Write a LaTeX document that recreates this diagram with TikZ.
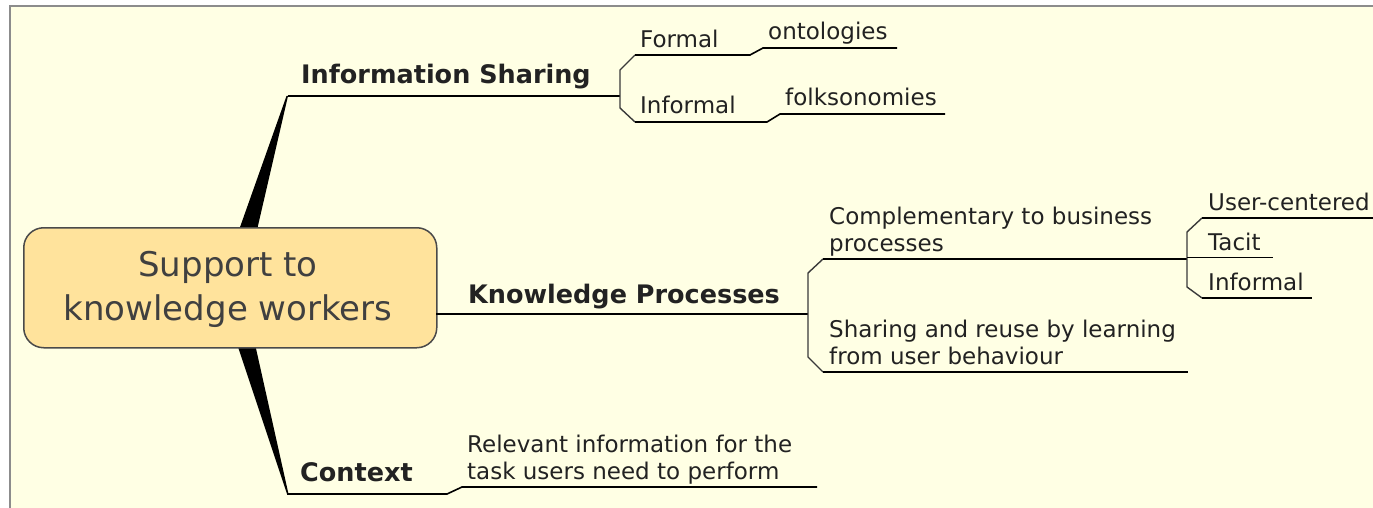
\documentclass[tikz,border=0pt]{standalone}
\usepackage{fontspec}
\setmainfont{DejaVu Sans}
\definecolor{panel}{HTML}{FFFFE4}
\definecolor{rootfill}{HTML}{FFE39C}
\definecolor{rootdraw}{HTML}{4A4A4A}
\definecolor{roottext}{HTML}{404040}
\definecolor{txt}{HTML}{222222}
\definecolor{frame}{HTML}{8C8C8C}
\definecolor{brk}{HTML}{3A3A3A}
\tikzset{
  lbl/.style={inner sep=0pt, anchor=base west, text=txt, font=\fontsize{23}{27}\selectfont, align=left},
  main/.style={inner sep=0pt, anchor=base west, text=txt, font=\fontsize{25.5}{30}\selectfont\bfseries},
  uline/.style={draw=black, line width=1.6pt},
  bracket/.style={draw=brk, line width=1.4pt},
  wedge/.style={fill=black, draw=none},
}
\begin{document}
\begin{tikzpicture}[x=1pt,y=-1pt]
\useasboundingbox (0,0) rectangle (1373,508);
\fill[white] (0,0) rectangle (1373,508);
\fill[panel] (10,6) rectangle (1373,508);
\draw[frame, line width=2pt] (10,508) -- (10,6) -- (1373,6);

% wedges from root
\coordinate (w1a) at (239,230); \coordinate (w1b) at (257,230); \coordinate (isL) at (288,96);
\coordinate (w2a) at (237,344); \coordinate (w2b) at (255,344); \coordinate (cxL) at (287,494);
\fill[wedge] (w1a) -- (w1b) -- (isL) -- ([xshift=-1.5]isL) -- cycle;
\fill[wedge] (w2a) -- (w2b) -- ([xshift=1.5]cxL) -- (cxL) -- cycle;

% root
\node[draw=rootdraw, line width=1.5pt, fill=rootfill, rounded corners=20pt, minimum width=413pt, minimum height=120pt, inner sep=0pt, anchor=north west] (root) at (23,227) {};
\node[inner sep=0pt, anchor=base, text=roottext, font=\fontsize{34}{44}\selectfont, align=center] (roottxt) at (228,320) {Support to\\knowledge workers};

% main branches
\node[main] (is) at (301,83.5) {Information Sharing};
\node[main] (kp) at (468,303) {Knowledge Processes};
\node[main] (cx) at (300,481) {Context};

% coordinates
\coordinate (isR) at (620,96);
\coordinate (isT) at (620,70); \coordinate (isB) at (620,108);
\coordinate (fmL) at (635,55); \coordinate (fmR) at (750,55);
\coordinate (onL) at (763,48); \coordinate (onR) at (897,48);
\coordinate (ifL) at (635,122); \coordinate (ifR) at (767,122);
\coordinate (fkL) at (780,114); \coordinate (fkR) at (945,114);

\coordinate (kpL) at (436,314); \coordinate (kpR) at (808,314);
\coordinate (kpT) at (808,273); \coordinate (kpB) at (808,357);
\coordinate (cpL) at (823,259); \coordinate (cpR) at (1187,259);
\coordinate (shL) at (823,372); \coordinate (shR) at (1188,372);
\coordinate (sbT) at (1187,232); \coordinate (sbB) at (1187,287);
\coordinate (ucL) at (1202,218); \coordinate (ucR) at (1373,218);
\coordinate (taL) at (1187,257.5); \coordinate (taR) at (1273,257.5);
\coordinate (in2L) at (1202,298); \coordinate (in2R) at (1312,298);

\coordinate (cxM) at (447,494); \coordinate (rvL) at (462,487); \coordinate (rvR) at (817,487);

% Information Sharing lines
\draw[uline] (isL) -- (isR);
\draw[bracket] (fmL) -- (isT) -- (isB) -- (ifL);
\draw[uline] (fmL) -- (fmR) -- (onL) -- (onR);
\draw[uline] (ifL) -- (ifR) -- (fkL) -- (fkR);
\node[lbl] (formal) at (640,47.5) {Formal};
\node[lbl] (onto) at (768,39.5) {ontologies};
\node[lbl] (informal) at (640,114) {Informal};
\node[lbl] (folk) at (785,106) {folksonomies};

% Knowledge Processes lines
\draw[uline] (kpL) -- (kpR);
\draw[bracket] (cpL) -- (kpT) -- (kpB) -- (shL);
\draw[uline] (cpL) -- (cpR);
\draw[uline] (shL) -- (shR);
\node[lbl] (comp) at (829,251) {Complementary to business\\processes};
\node[lbl] (share) at (829,364) {Sharing and reuse by learning\\from user behaviour};

\draw[bracket] (ucL) -- (sbT) -- (sbB) -- (in2L);
\draw[uline] (ucL) -- (ucR);
\draw[uline] (taL) -- (taR);
\draw[uline] (in2L) -- (in2R);
\node[lbl] (uc) at (1208,210.5) {User-centered};
\node[lbl] (tacit) at (1208,250) {Tacit};
\node[lbl] (inf2) at (1208,290.5) {Informal};

% Context lines
\draw[uline] (cxL) -- (cxM) -- (rvL) -- (rvR);
\node[lbl] (rel) at (467,479) {Relevant information for the\\task users need to perform};
\end{tikzpicture}
\end{document}
